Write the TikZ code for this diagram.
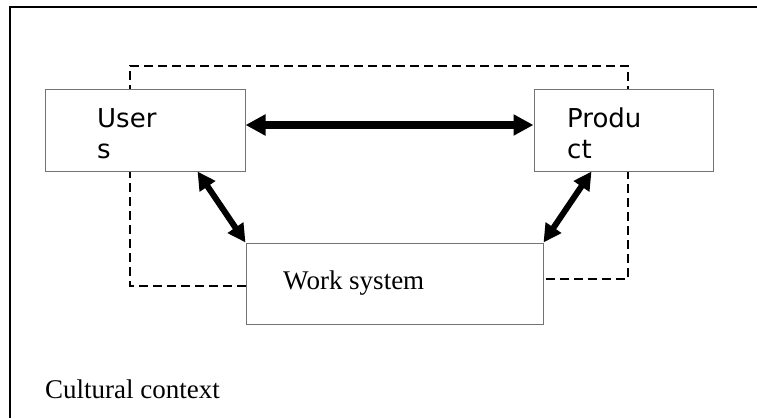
\documentclass[tikz,border=0pt]{standalone}
\usepackage{fontspec}
\setmainfont{Liberation Serif}
\setsansfont{DejaVu Sans}
\usetikzlibrary{arrows.meta}

\begin{document}
\begin{tikzpicture}[x=1pt,y=-1pt,
  box/.style={draw=black!55, line width=1pt, fill=white, inner sep=0pt},
  lbl/.style={inner sep=0pt, font=\fontsize{27}{31}\selectfont},
  slbl/.style={lbl, font=\sffamily\fontsize{26}{31}\selectfont, align=left, anchor=north west},
  biglink/.style={line width=7.5pt, {Triangle[length=20pt,width=20pt]}-{Triangle[length=20pt,width=20pt]}},
  smalllink/.style={line width=6pt, {Triangle[length=18pt,width=18pt]}-{Triangle[length=18pt,width=18pt]}}]
  \useasboundingbox (0,0) rectangle (757,418);
  % frame
  \draw[line width=1.5pt] (10,418) -- (10,7) -- (757,7);
  % context loop
  \draw[line width=2.4pt, dash pattern=on 9pt off 5pt] (246,286) -- (130,286) -- (130,66) -- (628,66) -- (628,279) -- (543,279);
  % boxes
  \node[box, minimum width=200pt, minimum height=82pt] (users) at (145,130) {};
  \node[box, minimum width=179pt, minimum height=82pt] (product) at (623.5,130) {};
  \node[box, minimum width=297pt, minimum height=81pt] (work) at (394.5,283.5) {};
  \node[slbl] (userstext) at (97,108) {User\\s};
  \node[slbl] (producttext) at (567,108) {Produ\\ct};
  \node[lbl, anchor=base west] (worktext) at (283,289) {Work system};
  \node[lbl, anchor=base west] (context) at (45,398) {Cultural context};
  % links
  \draw[biglink] ([yshift=5pt]users.east) -- ([yshift=5pt]product.west);
  \draw[smalllink] ([xshift=-48pt]users.south east) -- (work.north west);
  \draw[smalllink] ([xshift=58pt]product.south west) -- (work.north east);
\end{tikzpicture}
\end{document}
